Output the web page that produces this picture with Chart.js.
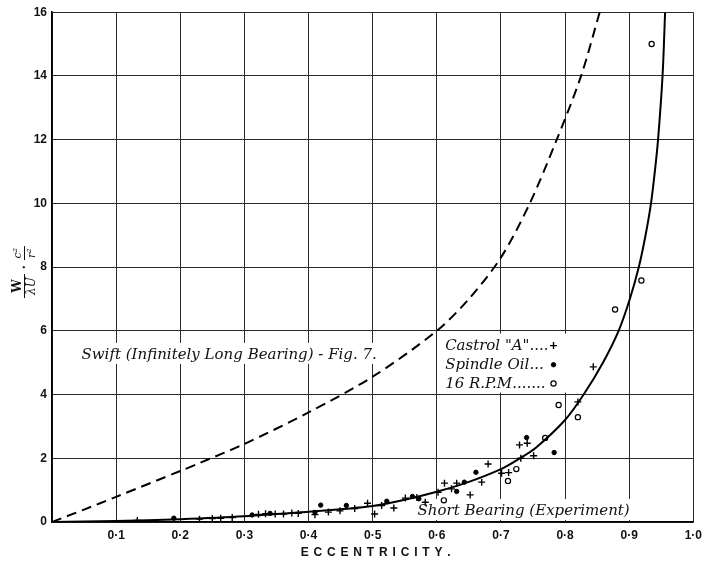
<!DOCTYPE html>
<html>
<head>
<meta charset="utf-8">
<title>Load against eccentricity</title>
<script src="https://cdn.jsdelivr.net/npm/chart.js@4.4.0/dist/chart.umd.min.js"></script>
<style>
    html, body { margin: 0; padding: 0; background: #fff; }
    #wrap { width: 708px; height: 561px; }
</style>
</head>
<body>
<div id="wrap"><canvas id="chart" width="708" height="561"></canvas></div>
<script>
// Curves
const swiftX = [0, 0.05, 0.1, 0.2, 0.23, 0.3, 0.4, 0.5, 0.6, 0.65, 0.7, 0.745, 0.787, 0.825, 0.854];
const swiftY = [0, 0.39, 0.79, 1.6, 1.85, 2.45, 3.44, 4.56, 6.0, 7.0, 8.3, 10, 12, 14, 16];

const shortX = [0, 0.1, 0.2, 0.3, 0.4, 0.45, 0.5, 0.55, 0.6, 0.65, 0.7, 0.728, 0.755, 0.8, 0.829, 0.859, 0.8835, 0.901, 0.915, 0.9255, 0.934, 0.94, 0.945, 0.952, 0.956];
const shortY = [0, 0.03, 0.09, 0.18, 0.32, 0.4, 0.5, 0.7, 0.95, 1.26, 1.66, 1.98, 2.34, 3.2, 4.0, 5.0, 6.0, 7.0, 8.0, 9.0, 10, 11, 12, 14, 16];

// Experimental points
const castrolX = [0.133, 0.23, 0.25, 0.263, 0.281, 0.322, 0.333, 0.348, 0.361, 0.374, 0.384, 0.41, 0.431, 0.449, 0.472,
    0.492, 0.503, 0.514, 0.533, 0.551, 0.569, 0.582, 0.602, 0.612, 0.623, 0.631, 0.652, 0.67, 0.68, 0.701, 0.712,
    0.731, 0.751, 0.729, 0.741, 0.82, 0.844];
const castrolY = [0.05, 0.09, 0.11, 0.12, 0.14, 0.24, 0.26, 0.25, 0.25, 0.28, 0.27, 0.23, 0.31, 0.35, 0.42,
    0.59, 0.25, 0.52, 0.44, 0.75, 0.77, 0.62, 0.93, 1.22, 1.04, 1.22, 0.85, 1.25, 1.82, 1.53, 1.55,
    2.0, 2.08, 2.42, 2.47, 3.77, 4.87];

const spindleX = [0.19, 0.312, 0.34, 0.41, 0.419, 0.459, 0.522, 0.562, 0.572, 0.631, 0.643, 0.661, 0.74, 0.783];
const spindleY = [0.12, 0.22, 0.27, 0.3, 0.53, 0.52, 0.65, 0.8, 0.73, 0.96, 1.25, 1.56, 2.65, 2.18];

const rpmX = [0.611, 0.711, 0.724, 0.769, 0.79, 0.82, 0.878, 0.919, 0.935];
const rpmY = [0.68, 1.29, 1.66, 2.64, 3.67, 3.29, 6.67, 7.58, 15.0];

// Tick labels
const xTickLabels = ['', '0·1', '0·2', '0·3', '0·4', '0·5', '0·6', '0·7', '0·8', '0·9', '1·0'];
const yTickLabels = ['0', '2', '4', '6', '8', '10', '12', '14', '16'];

const toPoints = (xs, ys) => xs.map((x, i) => ({ x: x, y: ys[i] }));

const serif = '"DejaVu Serif", "Liberation Serif", serif';
const sans = '"Liberation Sans", Arial, sans-serif';

// Labels written on the plot; anchors in data units (x, baseline y)
const swiftLabel = { text: 'Swift (Infinitely Long Bearing) - Fig. 7.', x: 0.046, y: 5.12, width: 311 };
const shortLabel = { text: 'Short Bearing (Experiment)', x: 0.57, y: 0.22, width: 222 };
const keyRows = [
    { text: 'Castrol "A"....', dataset: 2, y: 5.41 },
    { text: 'Spindle Oil...', dataset: 3, y: 4.81 },
    { text: '16 R.P.M.......', dataset: 4, y: 4.22 }
];
const keyTextX = 0.613;
const keyMarkX = 0.782;

function labelFont(ctx) {
    ctx.font = 'italic 15px ' + serif;
    ctx.fillStyle = '#111';
    ctx.textAlign = 'left';
    ctx.textBaseline = 'alphabetic';
}

function yPix(chart, v) {
    return chart.scales.y.getPixelForValue(v);
}

const annotations = {
    id: 'annotations',
    // white patches so grid lines stop behind the lettering
    beforeDatasetsDraw(chart) {
        const ctx = chart.ctx;
        const xs = chart.scales.x;
        ctx.save();
        ctx.fillStyle = '#fff';
        [swiftLabel, shortLabel].forEach(l => {
            const px = xs.getPixelForValue(l.x), py = yPix(chart, l.y);
            ctx.fillRect(px - 4, py - 16, l.width + 8, 21);
        });
        const kx = xs.getPixelForValue(keyTextX) - 7;
        const ktop = yPix(chart, keyRows[0].y) - 16;
        const kbot = yPix(chart, keyRows[2].y) + 5;
        ctx.fillRect(kx, ktop, xs.getPixelForValue(keyMarkX) + 16 - kx, kbot - ktop);
        ctx.restore();
    },
    afterDatasetsDraw(chart) {
        const ctx = chart.ctx;
        const xs = chart.scales.x;
        ctx.save();
        labelFont(ctx);
        [swiftLabel, shortLabel].forEach(l => {
            ctx.fillText(l.text, xs.getPixelForValue(l.x), yPix(chart, l.y), l.width);
        });
        keyRows.forEach(r => {
            const py = yPix(chart, r.y);
            const tx = xs.getPixelForValue(keyTextX);
            const mx = xs.getPixelForValue(keyMarkX);
            ctx.fillStyle = '#111';
            ctx.fillText(r.text, tx, py, mx - tx - 5);
            const ds = chart.data.datasets[r.dataset];
            ctx.strokeStyle = ds.borderColor;
            ctx.fillStyle = ds.backgroundColor;
            ctx.lineWidth = ds.pointBorderWidth;
            Chart.helpers.drawPoint(ctx, {
                pointStyle: ds.pointStyle, radius: ds.pointRadius, rotation: 0, borderWidth: ds.pointBorderWidth
            }, mx, py - 4);
        });
        ctx.restore();
    },
    afterDraw(chart) {
        const ctx = chart.ctx;
        const area = chart.chartArea;
        ctx.save();
        ctx.fillStyle = '#111';
        ctx.strokeStyle = '#111';

        // x-axis title, letter spaced
        ctx.font = 'bold 12px ' + sans;
        ctx.textAlign = 'left';
        const title = 'ECCENTRICITY.';
        const chars = [...title];
        const widths = chars.map(ch => ctx.measureText(ch).width);
        const total = widths.reduce((a, b) => a + b, 0);
        const span = 150;
        const gap = (span - total) / (chars.length - 1);
        let cx = (area.left + area.right) / 2 + 3 - span / 2;
        chars.forEach((ch, i) => { ctx.fillText(ch, cx, 556); cx += widths[i] + gap; });

        // y-axis title: W/(λU) · c²/r², rotated
        ctx.translate(area.left - 28, yPix(chart, 8));
        ctx.rotate(-Math.PI / 2);
        ctx.textAlign = 'center';
        ctx.lineWidth = 1;
        ctx.font = 'bold 12px ' + serif;
        ctx.fillText('W', -19, -3);
        ctx.font = 'italic 12px ' + serif;
        ctx.fillText('λU', -19, 11);
        ctx.beginPath();
        ctx.moveTo(-31, 0.5); ctx.lineTo(-7, 0.5);
        ctx.moveTo(7, 0.5); ctx.lineTo(21, 0.5);
        ctx.stroke();
        ctx.font = 'bold 12px ' + serif;
        ctx.fillText('·', 0, 4);
        ctx.font = 'italic 11px ' + serif;
        ctx.fillText('c²', 14, -3);
        ctx.fillText('r²', 14, 11);
        ctx.restore();
    }
};

const chartCanvas = document.getElementById('chart');

new Chart(chartCanvas, {
    type: 'scatter',
    data: {
        datasets: [
            {
                label: 'Swift (Infinitely Long Bearing)',
                data: toPoints(swiftX, swiftY),
                showLine: true,
                borderColor: '#000',
                borderWidth: 2,
                borderDash: [10, 6],
                pointRadius: 0,
                tension: 0.3,
                fill: false
            },
            {
                label: 'Short Bearing (Experiment)',
                data: toPoints(shortX, shortY),
                showLine: true,
                borderColor: '#000',
                borderWidth: 2,
                pointRadius: 0,
                tension: 0.3,
                fill: false
            },
            {
                label: 'Castrol "A"',
                data: toPoints(castrolX, castrolY),
                pointStyle: 'cross',
                pointRadius: 3.5,
                pointBorderWidth: 1.4,
                borderColor: '#000',
                backgroundColor: '#000'
            },
            {
                label: 'Spindle Oil',
                data: toPoints(spindleX, spindleY),
                pointStyle: 'circle',
                pointRadius: 2.2,
                pointBorderWidth: 1,
                borderColor: '#000',
                backgroundColor: '#000'
            },
            {
                label: '16 R.P.M.',
                data: toPoints(rpmX, rpmY),
                pointStyle: 'circle',
                pointRadius: 2.6,
                pointBorderWidth: 1.2,
                borderColor: '#000',
                backgroundColor: '#fff'
            }
        ]
    },
    options: {
        responsive: false,
        devicePixelRatio: 1,
        animation: false,
        layout: { padding: { top: 10, right: 10, left: 0, bottom: 0 } },
        plugins: {
            legend: { display: false },
            tooltip: { enabled: false }
        },
        scales: {
            x: {
                type: 'linear',
                min: 0,
                max: 1,
                afterFit: s => { s.height = 39; },
                ticks: {
                    stepSize: 0.1,
                    autoSkip: false,
                    maxRotation: 0,
                    padding: 6,
                    color: '#111',
                    font: { family: sans, size: 12, weight: 'bold' },
                    callback: (v, i) => xTickLabels[i]
                },
                grid: { color: '#2a2a2a', lineWidth: 1, drawTicks: false },
                border: { color: '#000', width: 1.6 }
            },
            y: {
                type: 'linear',
                min: 0,
                max: 16,
                afterFit: s => { s.width = 52; },
                ticks: {
                    stepSize: 2,
                    padding: 5,
                    color: '#111',
                    font: { family: sans, size: 12, weight: 'bold' },
                    callback: (v, i) => yTickLabels[i]
                },
                grid: { color: '#2a2a2a', lineWidth: 1, drawTicks: false },
                border: { color: '#000', width: 1.6 }
            }
        }
    },
    plugins: [annotations]
});
</script>
</body>
</html>
